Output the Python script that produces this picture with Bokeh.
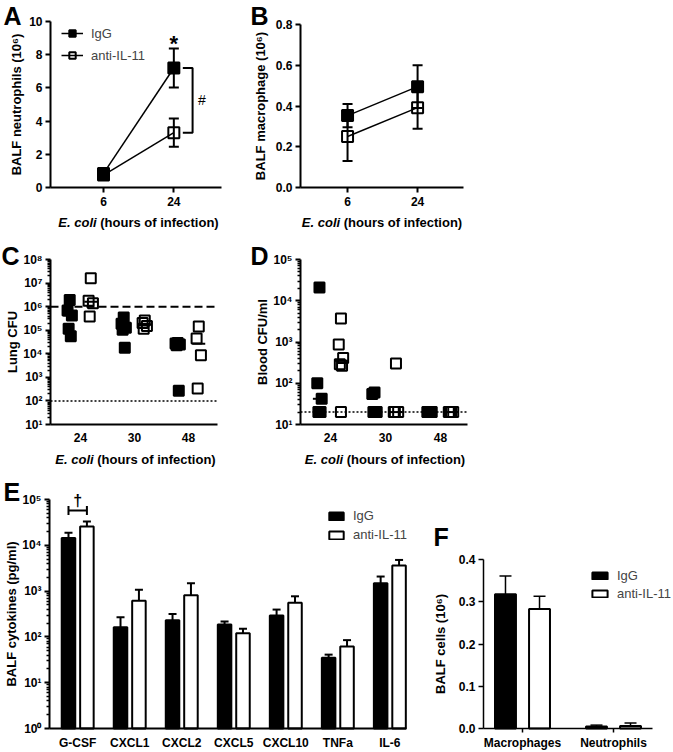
import math
import numpy as np
from bokeh.plotting import figure
from bokeh.layouts import column, row
from bokeh.models import (Range1d, FixedTicker, Label, Legend, LegendItem, Whisker, TeeHead,
                          ColumnDataSource, CustomJSTickFormatter, NumeralTickFormatter,
                          LinearAxis, LogAxis, Grid)
from bokeh.embed import file_html
from bokeh.resources import INLINE

FONT = "Liberation Sans"

# ---------------- data ----------------
# Panel A: BALF neutrophils (10^6)
hours_ab = [6, 24]
neut_igg = [0.85, 7.2]
neut_igg_sem = [0.15, 1.18]
neut_anti = [0.75, 3.3]
neut_anti_sem = [0.12, 0.85]

# Panel B: BALF macrophage (10^6)
mac_igg = [0.353, 0.495]
mac_igg_sem = [0.057, 0.105]
mac_anti = [0.25, 0.392]
mac_anti_sem = [0.12, 0.104]

# Panel C / D time categories
cd_times = ["24", "30", "48"]

# Panel C: Lung CFU
lung_igg_24 = [1.9e6, 6.8e5, 4.2e5, 1.15e5, 5.5e4]
lung_anti_24 = [1.6e7, 1.8e6, 1.4e6, 3.8e5]
lung_igg_30 = [3.5e5, 1.9e5, 1.26e5, 1.05e5, 1.8e4]
lung_anti_30 = [2.6e5, 2.0e5, 1.5e5, 1.15e5]
lung_igg_48 = [2.9e4, 2.7e4, 2.5e4, 2.3e4, 2.7e2]
lung_anti_48 = [1.45e5, 4.4e4, 8.7e3, 3.4e2]
lung_threshold = 1e6
lung_lod = 1e2

# Panel D: Blood CFU/ml
blood_igg_24 = [2.1e4, 100, 42, 20, 20]
blood_anti_24 = [3.7e3, 870, 410, 290, 265, 20]
blood_igg_30 = [60, 55, 20, 20, 20]
blood_anti_30 = [300, 20, 20, 20]
blood_igg_48 = [20, 20, 20, 20]
blood_anti_48 = [20, 20, 20, 20]
blood_lod = 20

# Panel E: BALF cytokines (pg/ml)
cytokines = ["G-CSF", "CXCL1", "CXCL2", "CXCL5", "CXCL10", "TNFa", "IL-6"]
cyto_igg = [1.45e4, 162, 232, 186, 293, 35, 1480]
cyto_igg_sem = [4.2e3, 108, 83, 32, 102, 6, 600]
cyto_anti = [2.57e4, 615, 810, 120, 560, 62, 3630]
cyto_anti_sem = [7.3e3, 455, 670, 30, 210, 23, 1160]

# Panel F: BALF cells (10^6)
cells = ["Macrophages", "Neutrophils"]
cells_igg = [0.318, 0.005]
cells_igg_sem = [0.043, 0.003]
cells_anti = [0.283, 0.006]
cells_anti_sem = [0.030, 0.007]

# ---------------- helpers ----------------
SUP_JS = """
const sup = {"0":"\u2070","1":"\u00b9","2":"\u00b2","3":"\u00b3","4":"\u2074","5":"\u2075","6":"\u2076","7":"\u2077","8":"\u2078","9":"\u2079","-":"\u207b"};
const e = Math.round(Math.log10(tick));
return "10" + String(e).split("").map(c => sup[c]).join("");
"""


def style_axis(ax, lw):
    ax.axis_line_width = lw
    ax.axis_line_color = "black"
    ax.major_tick_line_width = lw
    ax.major_tick_line_color = "black"
    ax.major_tick_in = 0
    ax.major_tick_out = 5
    ax.minor_tick_line_color = None
    ax.major_label_text_font = FONT
    ax.major_label_text_font_style = "bold"
    ax.major_label_text_font_size = "12px"
    ax.major_label_text_color = "black"
    ax.major_label_standoff = 3
    ax.axis_label_text_font = FONT
    ax.axis_label_text_font_style = "bold"
    ax.axis_label_text_font_size = "13px"
    ax.axis_label_text_color = "black"
    ax.axis_label_standoff = 2


def make_panel(W, H, L, R, T, B, xr, yr, ylog=False, lw=2):
    """Frame fills the canvas; the axes sit at fixed data locations so the
    data box [xr]x[yr] lands on pixels L..R, T..B of the canvas."""
    x0, x1 = xr
    sx = (x1 - x0) / (R - L)
    xs, xe = x0 - L * sx, x1 + (W - R) * sx
    f = math.log10 if ylog else (lambda v: v)
    g = (lambda v: 10 ** v) if ylog else (lambda v: v)
    a0, a1 = f(yr[0]), f(yr[1])
    sy = (a1 - a0) / (B - T)
    ys, ye = a0 - (H - B) * sy, a1 + T * sy
    p = figure(width=W, height=H, x_range=Range1d(xs, xe), y_range=Range1d(g(ys), g(ye)),
               y_axis_type="log" if ylog else "linear",
               x_axis_location=None, y_axis_location=None, min_border=0,
               output_backend="svg", toolbar_location=None)
    p.title.visible = False
    p.outline_line_color = None
    p.background_fill_color = "white"
    p.border_fill_color = "white"
    for gr in p.select(type=Grid):
        gr.visible = False
    ya = (LogAxis if ylog else LinearAxis)(fixed_location=x0, bounds=(yr[0], yr[1]))
    xa = LinearAxis(fixed_location=yr[0], bounds=(x0, x1))
    style_axis(ya, lw)
    style_axis(xa, lw)
    p.add_layout(ya, "left")
    p.add_layout(xa, "below")

    def dx(px):
        return xs + px * sx

    def dy(py):
        v = ye - py * sy
        return g(v)
    return p, xa, ya, dx, dy


def text(p, x, y, t, size="13px", style="bold", align="left", baseline="middle"):
    p.add_layout(Label(x=x, y=y, text=t, text_font=FONT, text_font_size=size,
                       text_font_style=style, text_align=align, text_baseline=baseline,
                       text_color="black"))


def letter(p, dx, dy, cx, cy, t):
    # cy = vertical centre of the capital letter (canvas px)
    text(p, dx(cx), dy(cy), t, size="25px", baseline="middle")


def ecoli_title(p, dx, dy, cx, cy):
    split = cx - 41.85
    text(p, dx(split), dy(cy), "E. coli", style="bold italic", align="right")
    text(p, dx(split + 3.6), dy(cy), "(hours of infection)", style="bold", align="left")


def log_ticks(ax, lo_exp, hi_exp):
    majors = [10.0 ** k for k in range(lo_exp, hi_exp + 1)]
    minors = [m * 10.0 ** k for k in range(lo_exp, hi_exp) for m in range(2, 10)]
    ax.ticker = FixedTicker(ticks=majors, minor_ticks=minors)
    ax.formatter = CustomJSTickFormatter(code=SUP_JS)
    ax.minor_tick_line_color = "black"
    ax.minor_tick_line_width = 1.5
    ax.minor_tick_out = 3
    ax.minor_tick_in = 0


def line_panel(p, igg, igg_sem, anti, anti_sem):
    rends = []
    for vals, sem, filled in ((igg, igg_sem, True), (anti, anti_sem, False)):
        src = ColumnDataSource(dict(x=hours_ab, y=vals,
                                    lo=[v - s for v, s in zip(vals, sem)],
                                    hi=[v + s for v, s in zip(vals, sem)]))
        ln = p.line("x", "y", source=src, line_color="black", line_width=1.5)
        p.add_layout(Whisker(base="x", lower="lo", upper="hi", source=src, line_width=2,
                             line_color="black",
                             upper_head=TeeHead(size=10, line_width=2, line_color="black"),
                             lower_head=TeeHead(size=10, line_width=2, line_color="black")))
        sc = p.scatter("x", "y", source=src, marker="square", size=11,
                       fill_color="black" if filled else None,
                       line_color="black", line_width=2)
        rends.append((ln, sc))
    return rends


JIT = [0.0, -0.04, 0.04, -0.02, 0.02, 0.0]


def strip(p, groups, offset, filled):
    xs, ys, mx, my = [], [], [], []
    for i, vals in enumerate(groups):
        for j, v in enumerate(vals):
            xs.append(i + offset + JIT[j % len(JIT)])
            ys.append(v)
        mx.append(i + offset)
        my.append(float(np.median(vals)))
    p.segment(x0=[m - 0.12 for m in mx], x1=[m + 0.12 for m in mx], y0=my, y1=my,
              line_color="black", line_width=2)
    p.scatter(xs, ys, marker="square", size=10,
              fill_color="black" if filled else None, line_color="black", line_width=2)


def legend(items, loc, gw, gh, lh, standoff, spacing, padding):
    return Legend(items=items, location=loc, glyph_width=gw, glyph_height=gh,
                  label_height=lh, label_standoff=standoff, spacing=spacing,
                  padding=padding, margin=0, border_line_alpha=0, background_fill_alpha=0,
                  label_text_font=FONT, label_text_font_size="13px")


# ---------------- Panel A ----------------
pA, xaA, yaA, dxA, dyA = make_panel(248, 235, 50, 221, 21, 187, (-7.57, 36.2), (0, 10))
xaA.ticker = FixedTicker(ticks=hours_ab)
xaA.major_label_standoff = 4
yaA.ticker = FixedTicker(ticks=[0, 2, 4, 6, 8, 10])
yaA.axis_label = "BALF neutrophils (10\u2076)"
rA = line_panel(pA, neut_igg, neut_igg_sem, neut_anti, neut_anti_sem)
pA.add_layout(legend([LegendItem(label="IgG", renderers=list(rA[0])),
                      LegendItem(label="anti-IL-11", renderers=list(rA[1]))],
                     (57, 168), 22, 16, 16, 8, 6, 4))
x24 = hours_ab[1]
text(pA, x24, dyA(43), "*", size="22px", align="center", baseline="middle")
bx0, bx1 = x24 + 2.3, x24 + 4.8
pA.line([bx0, bx1, bx1, bx0], [neut_igg[1], neut_igg[1], neut_anti[1], neut_anti[1]],
        line_color="black", line_width=2)
text(pA, bx1 + 1.4, (neut_igg[1] + neut_anti[1]) / 2, "#", size="14px", style="normal")
letter(pA, dxA, dyA, 3, 15, "A")
ecoli_title(pA, dxA, dyA, 138, 222)

# ---------------- Panel B ----------------
pB, xaB, yaB, dxB, dyB = make_panel(425, 235, 52, 215, 24, 187, (-6.09, 35.8), (0, 0.8))
xaB.ticker = FixedTicker(ticks=hours_ab)
xaB.major_label_standoff = 4
yaB.ticker = FixedTicker(ticks=[0, 0.2, 0.4, 0.6, 0.8])
yaB.formatter = NumeralTickFormatter(format="0.0")
yaB.axis_label = "BALF macrophage (10\u2076)"
yaB.axis_label_standoff = 5
line_panel(pB, mac_igg, mac_igg_sem, mac_anti, mac_anti_sem)
letter(pB, dxB, dyB, 2, 15, "B")
ecoli_title(pB, dxB, dyB, 133.5, 222)

# ---------------- Panel C ----------------
pC, xaC, yaC, dxC, dyC = make_panel(248, 235, 50, 217, 24, 189, (-0.556, 2.537), (1e1, 1e8),
                                    ylog=True)
log_ticks(yaC, 1, 8)
yaC.axis_label = "Lung CFU"
yaC.axis_label_standoff = 0
xaC.ticker = FixedTicker(ticks=[0, 1, 2])
xaC.major_label_overrides = {i: t for i, t in enumerate(cd_times)}
xaC.major_tick_out = 0
xaC.major_label_standoff = 8
pC.segment(x0=[-0.556], x1=[2.537], y0=[lung_threshold], y1=[lung_threshold],
           line_color="black", line_width=2, line_dash="8 4")
pC.segment(x0=[-0.556], x1=[2.537], y0=[lung_lod], y1=[lung_lod],
           line_color="black", line_width=1.5, line_dash="2 2")
strip(pC, [lung_igg_24, lung_igg_30, lung_igg_48], -0.2, True)
strip(pC, [lung_anti_24, lung_anti_30, lung_anti_48], 0.19, False)
letter(pC, dxC, dyC, 1, 20.5, "C")
ecoli_title(pC, dxC, dyC, 135, 224)

# ---------------- Panel D ----------------
pD, xaD, yaD, dxD, dyD = make_panel(425, 235, 52, 219, 24, 189, (-0.545, 2.49), (1e1, 1e5),
                                    ylog=True)
log_ticks(yaD, 1, 5)
yaD.axis_label = "Blood CFU/ml"
yaD.axis_label_standoff = 0
xaD.ticker = FixedTicker(ticks=[0, 1, 2])
xaD.major_label_overrides = {i: t for i, t in enumerate(cd_times)}
xaD.major_tick_out = 0
xaD.major_label_standoff = 8
pD.segment(x0=[-0.545], x1=[2.49], y0=[blood_lod], y1=[blood_lod],
           line_color="black", line_width=1.5, line_dash="2 2")
strip(pD, [blood_igg_24, blood_igg_30, blood_igg_48], -0.2, True)
strip(pD, [blood_anti_24, blood_anti_30, blood_anti_48], 0.19, False)
letter(pD, dxD, dyD, 2, 20.5, "D")
ecoli_title(pD, dxD, dyD, 136.5, 224)

# ---------------- Panel E ----------------
pE, xaE, yaE, dxE, dyE = make_panel(430, 282, 49, 406, 29, 258, (-0.542, 6.32), (1, 1e5),
                                    ylog=True)
log_ticks(yaE, 0, 5)
yaE.axis_label = "BALF cytokines (pg/ml)"
yaE.axis_label_standoff = 0
idx = list(range(len(cytokines)))
xaE.ticker = FixedTicker(ticks=idx)
xaE.major_label_overrides = {i: t for i, t in enumerate(cytokines)}
xaE.major_tick_out = 0
xaE.major_label_standoff = 7
OFF_E, W_E = 0.177, 0.26
eRends = []
for vals, sem, off, fc in ((cyto_igg, cyto_igg_sem, -OFF_E, "black"),
                           (cyto_anti, cyto_anti_sem, OFF_E, "white")):
    src = ColumnDataSource(dict(x=[i + off for i in idx], top=vals,
                                hi=[v + s for v, s in zip(vals, sem)]))
    pE.add_layout(Whisker(base="x", lower="top", upper="hi", source=src, line_width=2,
                          line_color="black", lower_head=None,
                          upper_head=TeeHead(size=8, line_width=2, line_color="black")))
    r = pE.vbar(x="x", top="top", bottom=1, width=W_E, source=src, fill_color=fc,
                line_color="black", line_width=2)
    eRends.append(r)
pE.add_layout(legend([LegendItem(label="IgG", renderers=[eRends[0]]),
                      LegendItem(label="anti-IL-11", renderers=[eRends[1]])],
                     (327, 210), 18, 10, 14, 8, 4, 0))
brk_y = dyE(40)
src_b = ColumnDataSource(dict(b=[brk_y], lo=[-OFF_E], hi=[OFF_E]))
pE.add_layout(Whisker(base="b", lower="lo", upper="hi", dimension="width", source=src_b,
                      line_width=2, line_color="black",
                      upper_head=TeeHead(size=9, line_width=2, line_color="black"),
                      lower_head=TeeHead(size=9, line_width=2, line_color="black")))
text(pE, 0, dyE(30), "\u2020", size="16px", align="center")
letter(pE, dxE, dyE, 3, 21.5, "E")

# ---------------- Panel F ----------------
pF, xaF, yaF, dxF, dyF = make_panel(243, 282, 53, 222, 89, 258, (-0.4286, 1.4286), (0, 0.4),
                                    lw=1.5)
idxF = list(range(len(cells)))
xaF.ticker = FixedTicker(ticks=idxF)
xaF.major_label_overrides = {i: t for i, t in enumerate(cells)}
xaF.major_tick_out = 4
xaF.major_label_standoff = 3
yaF.ticker = FixedTicker(ticks=[0, 0.1, 0.2, 0.3, 0.4])
yaF.formatter = NumeralTickFormatter(format="0.0")
yaF.axis_label = "BALF cells (10\u2076)"
yaF.axis_label_standoff = 8
OFF_F, W_F = 0.187, 0.23
fRends = []
for vals, sem, off, fc in ((cells_igg, cells_igg_sem, -OFF_F, "black"),
                           (cells_anti, cells_anti_sem, OFF_F, "white")):
    src = ColumnDataSource(dict(x=[i + off for i in idxF], top=vals,
                                hi=[v + s for v, s in zip(vals, sem)]))
    pF.add_layout(Whisker(base="x", lower="top", upper="hi", source=src, line_width=1.5,
                          line_color="black", lower_head=None,
                          upper_head=TeeHead(size=12, line_width=1.5, line_color="black")))
    r = pF.vbar(x="x", top="top", bottom=0, width=W_F, source=src, fill_color=fc,
                line_color="black", line_width=2)
    fRends.append(r)
pF.add_layout(legend([LegendItem(label="IgG", renderers=[fRends[0]]),
                      LegendItem(label="anti-IL-11", renderers=[fRends[1]])],
                     (160, 151), 19, 9, 14, 8, 3, 0))
letter(pF, dxF, dyF, 3, 66, "F")

layout = column(row(pA, pB), row(pC, pD), row(pE, pF))
open("out.html", "w").write(file_html(layout, INLINE))
